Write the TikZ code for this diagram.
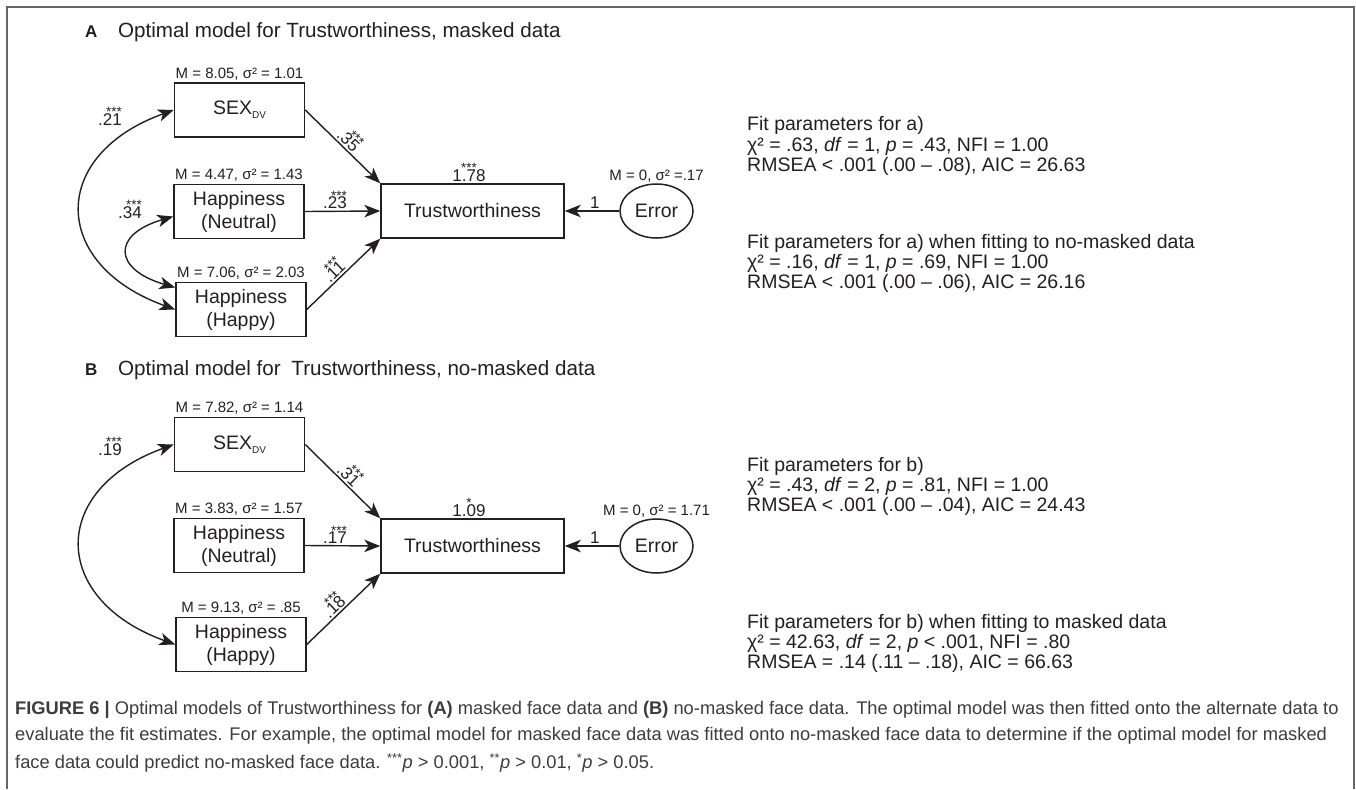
\documentclass[tikz,border=0pt]{standalone}
\usepackage{fontspec}
\setmainfont{Liberation Sans}
\usetikzlibrary{arrows.meta,calc,shapes.geometric}

\definecolor{ink}{HTML}{231F20}
\definecolor{framegray}{HTML}{666666}
\definecolor{captiongray}{HTML}{3C3C3C}

% coefficient with significance stars above, right aligned / centred
\newcommand{\cf}[2]{#2\llap{\raisebox{8.5pt}{\fontsize{13.5}{13.5}\selectfont #1}}}
\newcommand{\cfc}[2]{\sbox0{#2}\rlap{\usebox0}\makebox[\wd0]{\raisebox{8.5pt}{\fontsize{13.5}{13.5}\selectfont #1}}}
\newcommand{\sexdv}{SEX\raisebox{-4pt}{\fontsize{10}{10}\selectfont DV}}
% block of left aligned lines whose base is the first baseline
\newcommand{\lines}[1]{\begin{tabular}[t]{@{}l@{}}#1\end{tabular}}

\begin{document}
\begin{tikzpicture}[x=1pt,y=-1pt,
  every node/.style={text=ink},
  tip/.tip={Stealth[length=16pt, width=12.5pt, inset=4.5pt]},
  varbox/.style={draw=ink, line width=1.5pt, minimum width=130pt, minimum height=54pt,
    inner sep=0pt, align=center, font=\fontsize{19.5}{23}\selectfont},
  outbox/.style={varbox, minimum width=183pt},
  errnode/.style={draw=ink, line width=1.5pt, ellipse, minimum width=73pt, minimum height=54pt,
    inner sep=0pt, font=\fontsize{19.5}{23}\selectfont},
  moments/.style={anchor=base, inner sep=0pt, font=\fontsize{15}{15}\selectfont},
  path/.style={draw=ink, line width=1.4pt, -tip},
  covar/.style={draw=ink, line width=1.4pt, tip-tip},
  coef/.style={inner sep=1.5pt, font=\fontsize{17}{17}\selectfont},
  fittext/.style={anchor=base west, inner sep=0pt, font=\fontsize{19.5}{19.8}\selectfont},
  title/.style={anchor=base west, inner sep=0pt, font=\fontsize{20.6}{21}\selectfont},
  panel/.style={anchor=base west, inner sep=0pt, font=\fontsize{17}{17}\selectfont\bfseries},
  caption/.style={anchor=base west, inner sep=0pt, text=captiongray, font=\fontsize{18.3}{18.3}\selectfont},
  frame/.style={draw=framegray, line width=2pt}
]
\useasboundingbox (0,0) rectangle (1356,789);

% outer frame
\draw[frame] (7,789) -- (7,7) -- (1354,7) -- (1354,789);

% ---------------- panel A ----------------
\node[panel] (labA) at (85,38) {A};
\node[title] (titA) at (118,38) {Optimal model for Trustworthiness, masked data};

\node[varbox] (sexA) at (239.5,110) {\sexdv};
\node[varbox] (neuA) at (239,211.5) {Happiness\\(Neutral)};
\node[varbox] (hapA) at (241,309.5) {Happiness\\(Happy)};
\node[outbox] (trA) at (472.5,211) {Trustworthiness};
\node[errnode] (errA) at (656.5,211) {Error};

\node[moments] (msexA) at ($(sexA.north)+(0,-4)$) {M = 8.05, σ² = 1.01};
\node[moments] (mneuA) at ($(neuA.north)+(0,-4)$) {M = 4.47, σ² = 1.43};
\node[moments] (mhapA) at ($(hapA.north)+(0,-4)$) {M = 7.06, σ² = 2.03};
\node[moments] (merrA) at ($(errA.north)+(0,-2.5)$) {M = 0, σ² =.17};
\node[coef, anchor=base, inner sep=0pt] (icA) at (469,181) {\cfc{***}{1.78}};

\draw[path] (sexA.east) -- (trA.north west)
  node[coef, pos=0.5, sloped, above] (pA1) {\cf{***}{.35}};
\draw[path] (neuA.east) -- (trA.west)
  node[coef, pos=0.4, above] (pA2) {\cf{***}{.23}};
\draw[path] (hapA.east) -- (trA.south west)
  node[coef, pos=0.45, sloped, above] (pA3) {\cf{***}{.11}};
\draw[path] (errA.west) -- (trA.east)
  node[coef, pos=0.45, above, inner sep=2pt] (pA4) {1};

\draw[covar] (sexA.west) .. controls +(-125,45) and +(-125,-45) .. (hapA.west);
\draw[covar] ($(neuA.west)+(0,5)$) .. controls +(-62,18) and +(-62,-18) .. ($(hapA.west)+(0,-22)$);
\node[coef, anchor=base east, inner sep=0pt] (cA1) at (122,125) {\cf{***}{.21}};
\node[coef, anchor=base east, inner sep=0pt] (cA2) at (142,218) {\cf{***}{.34}};

\node[fittext] (fitA) at (747,131) {\lines{Fit parameters for a)\\
  χ² = .63, \textit{df} = 1, \textit{p} = .43, NFI = 1.00\\
  RMSEA < .001 (.00 – .08), AIC = 26.63}};
\node[fittext] (altA) at (747,248) {\lines{Fit parameters for a) when fitting to no-masked data\\
  χ² = .16, \textit{df} = 1, \textit{p} = .69, NFI = 1.00\\
  RMSEA < .001 (.00 – .06), AIC = 26.16}};

% ---------------- panel B ----------------
\node[panel] (labB) at (85,375) {B};
\node[title] (titB) at (118,375) {Optimal model for\hspace{5pt} Trustworthiness, no-masked data};

\node[varbox] (sexB) at (239.5,444.5) {\sexdv};
\node[varbox] (neuB) at (239,545.5) {Happiness\\(Neutral)};
\node[varbox] (hapB) at (241,644.5) {Happiness\\(Happy)};
\node[outbox] (trB) at (472.5,546) {Trustworthiness};
\node[errnode] (errB) at (656.5,546) {Error};

\node[moments] (msexB) at ($(sexB.north)+(0,-4)$) {M = 7.82, σ² = 1.14};
\node[moments] (mneuB) at ($(neuB.north)+(0,-4)$) {M = 3.83, σ² = 1.57};
\node[moments] (mhapB) at ($(hapB.north)+(0,-4)$) {M = 9.13, σ² = .85};
\node[moments] (merrB) at ($(errB.north)+(0,-2.5)$) {M = 0, σ² = 1.71};
\node[coef, anchor=base, inner sep=0pt] (icB) at (469,516) {\cfc{*}{1.09}};

\draw[path] (sexB.east) -- (trB.north west)
  node[coef, pos=0.5, sloped, above] (pB1) {\cf{***}{.31}};
\draw[path] (neuB.east) -- (trB.west)
  node[coef, pos=0.4, above] (pB2) {\cf{***}{.17}};
\draw[path] (hapB.east) -- (trB.south west)
  node[coef, pos=0.45, sloped, above] (pB3) {\cf{***}{.18}};
\draw[path] (errB.west) -- (trB.east)
  node[coef, pos=0.45, above, inner sep=2pt] (pB4) {1};

\draw[covar] (sexB.west) .. controls +(-125,45) and +(-125,-45) .. (hapB.west);
\node[coef, anchor=base east, inner sep=0pt] (cB1) at (122,455) {\cf{***}{.19}};

\node[fittext] (fitB) at (747,471) {\lines{Fit parameters for b)\\
  χ² = .43, \textit{df} = 2, \textit{p} = .81, NFI = 1.00\\
  RMSEA < .001 (.00 – .04), AIC = 24.43}};
\node[fittext] (altB) at (747,628) {\lines{Fit parameters for b) when fitting to masked data\\
  χ² = 42.63, \textit{df} = 2, \textit{p} < .001, NFI = .80\\
  RMSEA = .14 (.11 – .18), AIC = 66.63}};

% ---------------- caption ----------------
\node[caption] (capt) at (15,714) {\begin{tabular}[t]{@{}l@{}}
  \textbf{FIGURE 6 |} Optimal models of Trustworthiness for \textbf{(A)} masked face data and \textbf{(B)} no-masked face data. The optimal model was then fitted onto the alternate data to\\[7.5pt]
  evaluate the fit estimates. For example, the optimal model for masked face data was fitted onto no-masked face data to determine if the optimal model for masked\\[7.5pt]
  face data could predict no-masked face data. \textsuperscript{***}\textit{p} > 0.001, \textsuperscript{**}\textit{p} > 0.01, \textsuperscript{*}\textit{p} > 0.05.
\end{tabular}};
\end{tikzpicture}
\end{document}
